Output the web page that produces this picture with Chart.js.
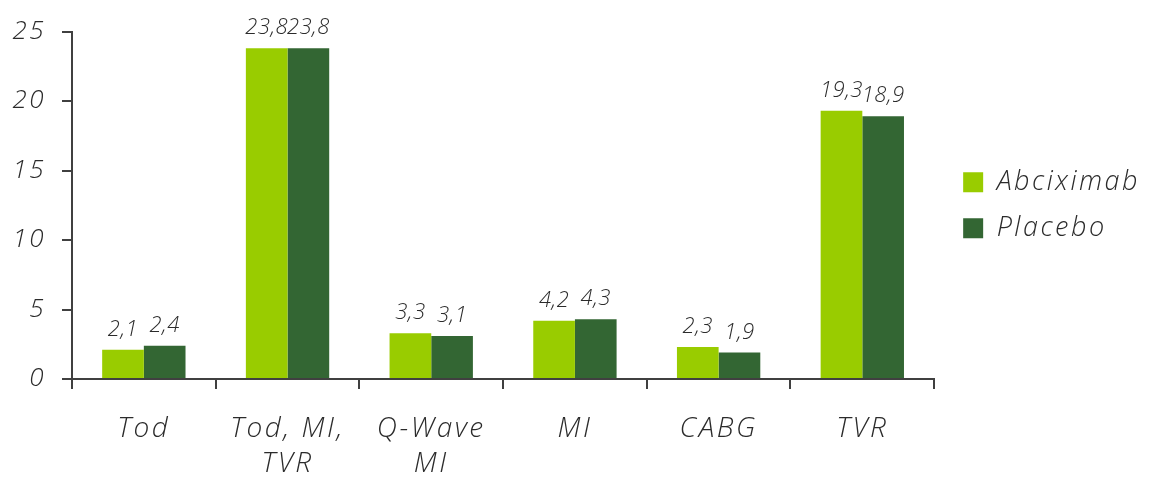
<!DOCTYPE html>
<html>
<head>
<meta charset="utf-8">
<script src="https://cdn.jsdelivr.net/npm/chart.js@4"></script>
<style>
  html, body { margin: 0; padding: 0; background: #ffffff; }
  #wrap { width: 1149px; height: 480px; }
</style>
</head>
<body>
<div id="wrap"><canvas id="c" width="1149" height="480"></canvas></div>
<script>
// Endpoints (categories), multi-line labels as arrays
const categories = [["Tod"], ["Tod, MI,", "TVR"], ["Q-Wave", "MI"], ["MI"], ["CABG"], ["TVR"]];
const abciximab = [2.1, 23.8, 3.3, 4.2, 2.3, 19.3];
const placebo = [2.4, 23.8, 3.1, 4.3, 1.9, 18.9];
const yTicks = [0, 5, 10, 15, 20, 25];

const FONT = "'Open Sans', 'DejaVu Sans', sans-serif";
const TEXT = '#2b2b2b';
const AXIS = '#404040';

// Wide tracking for all chart text (set after the canvas has been sized)
const tracking = {
  id: 'tracking',
  afterInit(chart) { chart.ctx.letterSpacing = '2.5px'; }
};

// Leave a little more room between the plot and the legend
const legendGap = {
  id: 'legendGap',
  afterLayout(chart) { if (chart.legend) chart.legend.left += 10; }
};

// Draws the value above each bar, with a decimal comma
const valueLabels = {
  id: 'valueLabels',
  afterDatasetsDraw(chart) {
    const ctx = chart.ctx;
    ctx.save();
    ctx.letterSpacing = '0.5px';
    ctx.font = "italic 300 22px " + FONT;
    ctx.fillStyle = TEXT;
    ctx.textAlign = 'center';
    ctx.textBaseline = 'alphabetic';
    chart.data.datasets.forEach((ds, di) => {
      chart.getDatasetMeta(di).data.forEach((bar, i) => {
        const txt = ds.data[i].toFixed(1).replace('.', ',');
        ctx.fillText(txt, bar.x, bar.y - 14);
      });
    });
    ctx.restore();
  }
};

new Chart(document.getElementById('c'), {
  type: 'bar',
  data: {
    labels: categories,
    datasets: [
      { label: 'Abciximab', data: abciximab, backgroundColor: '#99cc00', borderWidth: 0 },
      { label: 'Placebo', data: placebo, backgroundColor: '#336633', borderWidth: 0 }
    ]
  },
  options: {
    responsive: false,
    animation: false,
    devicePixelRatio: 1,
    layout: { padding: { top: 21, left: 0, right: 9, bottom: 0 } },
    datasets: { bar: { categoryPercentage: 0.58, barPercentage: 1.0 } },
    plugins: {
      tooltip: { enabled: false },
      legend: {
        position: 'right',
        fullSize: false,
        labels: {
          boxWidth: 20,
          boxHeight: 20,
          padding: 19,
          color: TEXT,
          font: { family: FONT, size: 27, style: 'italic', weight: 300, lineHeight: 0.67 }
        }
      }
    },
    scales: {
      x: {
        afterFit(scale) { scale.height = 101; },
        grid: { display: true, drawOnChartArea: false, offset: true, tickLength: 10, color: AXIS, lineWidth: 2 },
        border: { display: true, color: AXIS, width: 2 },
        ticks: {
          color: TEXT,
          padding: 23,
          maxRotation: 0,
          font: { family: FONT, size: 28, style: 'italic', weight: 300, lineHeight: 1.25 }
        }
      },
      y: {
        min: 0,
        max: 25,
        afterFit(scale) { scale.width = 72; },
        afterBuildTicks(scale) { scale.ticks = yTicks.map(v => ({ value: v })); },
        grid: { display: true, drawOnChartArea: false, tickLength: 10, color: AXIS, lineWidth: 2 },
        border: { display: true, color: AXIS, width: 2 },
        ticks: {
          color: TEXT,
          padding: 16,
          font: { family: FONT, size: 26, style: 'italic', weight: 300 }
        }
      }
    }
  },
  plugins: [tracking, legendGap, valueLabels]
});
</script>
</body>
</html>
